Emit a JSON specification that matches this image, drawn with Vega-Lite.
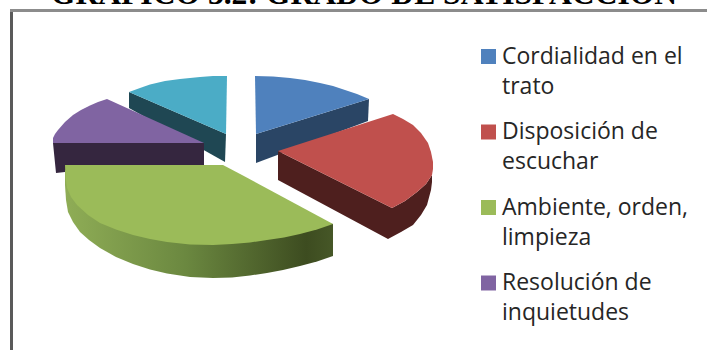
{
  "$schema": "https://vega.github.io/schema/vega-lite/v6.json",
  "width": 707,
  "height": 350,
  "autosize": "none",
  "padding": 0,
  "background": "white",
  "config": {"view": {"stroke": null}, "style": {"guide-label": {"lineHeight": 30}}},
  "datasets": {
    "caras": [
      {"porcion":"Otros aspectos","cara":"lateral","n":1,"px":129,"py":92},
      {"porcion":"Otros aspectos","cara":"lateral","n":2,"px":226,"py":134},
      {"porcion":"Otros aspectos","cara":"lateral","n":3,"px":225,"py":162},
      {"porcion":"Otros aspectos","cara":"lateral","n":4,"px":129,"py":108},

      {"porcion":"Cordialidad en el trato","cara":"lateral","n":1,"px":256,"py":134},
      {"porcion":"Cordialidad en el trato","cara":"lateral","n":2,"px":369,"py":99},
      {"porcion":"Cordialidad en el trato","cara":"lateral","n":3,"px":368,"py":121},
      {"porcion":"Cordialidad en el trato","cara":"lateral","n":4,"px":256,"py":163},

      {"porcion":"Resolución de inquietudes","cara":"lateral","n":1,"px":53,"py":143},
      {"porcion":"Resolución de inquietudes","cara":"lateral","n":2,"px":204,"py":143},
      {"porcion":"Resolución de inquietudes","cara":"lateral","n":3,"px":204,"py":166},
      {"porcion":"Resolución de inquietudes","cara":"lateral","n":4,"px":65,"py":172},
      {"porcion":"Resolución de inquietudes","cara":"lateral","n":5,"px":56,"py":173},

      {"porcion":"Disposición de escuchar","cara":"lateral","n":1,"px":278,"py":151},
      {"porcion":"Disposición de escuchar","cara":"lateral","n":2,"px":392,"py":208},
      {"porcion":"Disposición de escuchar","cara":"lateral","n":3,"px":405,"py":201},
      {"porcion":"Disposición de escuchar","cara":"lateral","n":4,"px":417,"py":192},
      {"porcion":"Disposición de escuchar","cara":"lateral","n":5,"px":426,"py":184},
      {"porcion":"Disposición de escuchar","cara":"lateral","n":6,"px":432,"py":175},
      {"porcion":"Disposición de escuchar","cara":"lateral","n":7,"px":432,"py":182},
      {"porcion":"Disposición de escuchar","cara":"lateral","n":8,"px":431,"py":190},
      {"porcion":"Disposición de escuchar","cara":"lateral","n":9,"px":427,"py":205},
      {"porcion":"Disposición de escuchar","cara":"lateral","n":10,"px":421,"py":215},
      {"porcion":"Disposición de escuchar","cara":"lateral","n":11,"px":413,"py":225},
      {"porcion":"Disposición de escuchar","cara":"lateral","n":12,"px":401,"py":232},
      {"porcion":"Disposición de escuchar","cara":"lateral","n":13,"px":388,"py":239},
      {"porcion":"Disposición de escuchar","cara":"lateral","n":14,"px":278,"py":180},

      {"porcion":"Ambiente, orden, limpieza","cara":"degradado","n":1,"px":65,"py":170},
      {"porcion":"Ambiente, orden, limpieza","cara":"degradado","n":2,"px":333,"py":224},
      {"porcion":"Ambiente, orden, limpieza","cara":"degradado","n":3,"px":333,"py":256},
      {"porcion":"Ambiente, orden, limpieza","cara":"degradado","n":4,"px":317,"py":261.5},
      {"porcion":"Ambiente, orden, limpieza","cara":"degradado","n":5,"px":300,"py":266},
      {"porcion":"Ambiente, orden, limpieza","cara":"degradado","n":6,"px":283,"py":270},
      {"porcion":"Ambiente, orden, limpieza","cara":"degradado","n":7,"px":267,"py":273},
      {"porcion":"Ambiente, orden, limpieza","cara":"degradado","n":8,"px":250,"py":275.5},
      {"porcion":"Ambiente, orden, limpieza","cara":"degradado","n":9,"px":232,"py":277.5},
      {"porcion":"Ambiente, orden, limpieza","cara":"degradado","n":10,"px":213,"py":278},
      {"porcion":"Ambiente, orden, limpieza","cara":"degradado","n":11,"px":190,"py":277},
      {"porcion":"Ambiente, orden, limpieza","cara":"degradado","n":12,"px":167,"py":273.5},
      {"porcion":"Ambiente, orden, limpieza","cara":"degradado","n":13,"px":150,"py":269.5},
      {"porcion":"Ambiente, orden, limpieza","cara":"degradado","n":14,"px":133,"py":264},
      {"porcion":"Ambiente, orden, limpieza","cara":"degradado","n":15,"px":116,"py":257},
      {"porcion":"Ambiente, orden, limpieza","cara":"degradado","n":16,"px":100,"py":248},
      {"porcion":"Ambiente, orden, limpieza","cara":"degradado","n":17,"px":89,"py":240},
      {"porcion":"Ambiente, orden, limpieza","cara":"degradado","n":18,"px":80,"py":232},
      {"porcion":"Ambiente, orden, limpieza","cara":"degradado","n":19,"px":73,"py":222},
      {"porcion":"Ambiente, orden, limpieza","cara":"degradado","n":20,"px":68,"py":212},
      {"porcion":"Ambiente, orden, limpieza","cara":"degradado","n":21,"px":66,"py":200},
      {"porcion":"Ambiente, orden, limpieza","cara":"degradado","n":22,"px":65,"py":185},

      {"porcion":"Cordialidad en el trato","cara":"superior","n":1,"px":256,"py":134},
      {"porcion":"Cordialidad en el trato","cara":"superior","n":2,"px":255,"py":76},
      {"porcion":"Cordialidad en el trato","cara":"superior","n":3,"px":273,"py":76.5},
      {"porcion":"Cordialidad en el trato","cara":"superior","n":4,"px":290,"py":78},
      {"porcion":"Cordialidad en el trato","cara":"superior","n":5,"px":305,"py":80},
      {"porcion":"Cordialidad en el trato","cara":"superior","n":6,"px":320,"py":83},
      {"porcion":"Cordialidad en el trato","cara":"superior","n":7,"px":333,"py":86},
      {"porcion":"Cordialidad en el trato","cara":"superior","n":8,"px":345,"py":90},
      {"porcion":"Cordialidad en el trato","cara":"superior","n":9,"px":357,"py":94},
      {"porcion":"Cordialidad en el trato","cara":"superior","n":10,"px":369,"py":99},

      {"porcion":"Disposición de escuchar","cara":"superior","n":1,"px":278,"py":151},
      {"porcion":"Disposición de escuchar","cara":"superior","n":2,"px":393,"py":114},
      {"porcion":"Disposición de escuchar","cara":"superior","n":3,"px":403,"py":119},
      {"porcion":"Disposición de escuchar","cara":"superior","n":4,"px":413,"py":125},
      {"porcion":"Disposición de escuchar","cara":"superior","n":5,"px":421,"py":133},
      {"porcion":"Disposición de escuchar","cara":"superior","n":6,"px":428,"py":143},
      {"porcion":"Disposición de escuchar","cara":"superior","n":7,"px":431,"py":152},
      {"porcion":"Disposición de escuchar","cara":"superior","n":8,"px":433,"py":162},
      {"porcion":"Disposición de escuchar","cara":"superior","n":9,"px":433,"py":169},
      {"porcion":"Disposición de escuchar","cara":"superior","n":10,"px":432,"py":175},
      {"porcion":"Disposición de escuchar","cara":"superior","n":11,"px":426,"py":184},
      {"porcion":"Disposición de escuchar","cara":"superior","n":12,"px":417,"py":192},
      {"porcion":"Disposición de escuchar","cara":"superior","n":13,"px":405,"py":201},
      {"porcion":"Disposición de escuchar","cara":"superior","n":14,"px":392,"py":208},

      {"porcion":"Resolución de inquietudes","cara":"superior","n":1,"px":204,"py":143},
      {"porcion":"Resolución de inquietudes","cara":"superior","n":2,"px":53,"py":143},
      {"porcion":"Resolución de inquietudes","cara":"superior","n":3,"px":53,"py":138},
      {"porcion":"Resolución de inquietudes","cara":"superior","n":4,"px":55,"py":134},
      {"porcion":"Resolución de inquietudes","cara":"superior","n":5,"px":58,"py":130},
      {"porcion":"Resolución de inquietudes","cara":"superior","n":6,"px":65,"py":122},
      {"porcion":"Resolución de inquietudes","cara":"superior","n":7,"px":73,"py":115},
      {"porcion":"Resolución de inquietudes","cara":"superior","n":8,"px":81,"py":110},
      {"porcion":"Resolución de inquietudes","cara":"superior","n":9,"px":90,"py":105.5},
      {"porcion":"Resolución de inquietudes","cara":"superior","n":10,"px":98,"py":102},
      {"porcion":"Resolución de inquietudes","cara":"superior","n":11,"px":107,"py":99},

      {"porcion":"Otros aspectos","cara":"superior","n":1,"px":226,"py":134},
      {"porcion":"Otros aspectos","cara":"superior","n":2,"px":129,"py":92},
      {"porcion":"Otros aspectos","cara":"superior","n":3,"px":140,"py":88},
      {"porcion":"Otros aspectos","cara":"superior","n":4,"px":150,"py":84.5},
      {"porcion":"Otros aspectos","cara":"superior","n":5,"px":165,"py":81},
      {"porcion":"Otros aspectos","cara":"superior","n":6,"px":180,"py":79},
      {"porcion":"Otros aspectos","cara":"superior","n":7,"px":200,"py":77},
      {"porcion":"Otros aspectos","cara":"superior","n":8,"px":213,"py":76},
      {"porcion":"Otros aspectos","cara":"superior","n":9,"px":227,"py":76},

      {"porcion":"Ambiente, orden, limpieza","cara":"superior","n":1,"px":65,"py":165},
      {"porcion":"Ambiente, orden, limpieza","cara":"superior","n":2,"px":223,"py":165},
      {"porcion":"Ambiente, orden, limpieza","cara":"superior","n":3,"px":242,"py":175},
      {"porcion":"Ambiente, orden, limpieza","cara":"superior","n":4,"px":333,"py":224},
      {"porcion":"Ambiente, orden, limpieza","cara":"superior","n":5,"px":317,"py":229.5},
      {"porcion":"Ambiente, orden, limpieza","cara":"superior","n":6,"px":300,"py":234},
      {"porcion":"Ambiente, orden, limpieza","cara":"superior","n":7,"px":284,"py":237.5},
      {"porcion":"Ambiente, orden, limpieza","cara":"superior","n":8,"px":267,"py":240},
      {"porcion":"Ambiente, orden, limpieza","cara":"superior","n":9,"px":250,"py":242.5},
      {"porcion":"Ambiente, orden, limpieza","cara":"superior","n":10,"px":232,"py":244},
      {"porcion":"Ambiente, orden, limpieza","cara":"superior","n":11,"px":213,"py":245},
      {"porcion":"Ambiente, orden, limpieza","cara":"superior","n":12,"px":190,"py":244.5},
      {"porcion":"Ambiente, orden, limpieza","cara":"superior","n":13,"px":167,"py":242},
      {"porcion":"Ambiente, orden, limpieza","cara":"superior","n":14,"px":150,"py":239},
      {"porcion":"Ambiente, orden, limpieza","cara":"superior","n":15,"px":133,"py":235},
      {"porcion":"Ambiente, orden, limpieza","cara":"superior","n":16,"px":116,"py":229.5},
      {"porcion":"Ambiente, orden, limpieza","cara":"superior","n":17,"px":100,"py":223},
      {"porcion":"Ambiente, orden, limpieza","cara":"superior","n":18,"px":88,"py":215},
      {"porcion":"Ambiente, orden, limpieza","cara":"superior","n":19,"px":77,"py":205},
      {"porcion":"Ambiente, orden, limpieza","cara":"superior","n":20,"px":71,"py":197},
      {"porcion":"Ambiente, orden, limpieza","cara":"superior","n":21,"px":67,"py":188},
      {"porcion":"Ambiente, orden, limpieza","cara":"superior","n":22,"px":65.5,"py":178}
    ]
  },
  "data": {"name": "caras"},
  "encoding": {
    "x": {"field": "px", "type": "quantitative", "axis": null, "scale": {"domain": [0, 707], "nice": false, "zero": false}},
    "y": {"field": "py", "type": "quantitative", "axis": null, "scale": {"domain": [350, 0], "nice": false, "zero": false}}
  },
  "layer": [
    {
      "transform": [{"filter": "datum.cara === 'lateral'"}],
      "mark": {"type": "line", "stroke": null, "interpolate": "linear"},
      "encoding": {
        "detail": {"field": "porcion"},
        "order": {"field": "n", "type": "quantitative"},
        "fill": {
          "field": "porcion", "type": "nominal", "legend": null,
          "scale": {
            "domain": ["Cordialidad en el trato", "Disposición de escuchar", "Resolución de inquietudes", "Otros aspectos"],
            "range": ["#2A4565", "#4E1F1E", "#35263F", "#1F4753"]
          }
        }
      }
    },
    {
      "transform": [{"filter": "datum.cara === 'degradado'"}],
      "mark": {
        "type": "line", "stroke": null,
        "fill": {
          "gradient": "linear", "x1": 0, "x2": 1, "y1": 0, "y2": 0,
          "stops": [
            {"offset": 0, "color": "#8FAD56"},
            {"offset": 0.45, "color": "#6B8840"},
            {"offset": 0.9, "color": "#3D4C20"},
            {"offset": 1, "color": "#465727"}
          ]
        }
      },
      "encoding": {"order": {"field": "n", "type": "quantitative"}}
    },
    {
      "transform": [{"filter": "datum.cara === 'superior'"}],
      "mark": {"type": "line", "stroke": null},
      "encoding": {
        "detail": {"field": "porcion"},
        "order": {"field": "n", "type": "quantitative"},
        "fill": {
          "field": "porcion", "type": "nominal",
          "scale": {
            "domain": ["Cordialidad en el trato", "Disposición de escuchar", "Ambiente, orden, limpieza", "Resolución de inquietudes", "Otros aspectos"],
            "range": ["#4F81BD", "#C0504D", "#9BBB59", "#8064A2", "#4BACC6"]
          },
          "legend": {
            "title": null,
            "orient": "none",
            "legendX": 477,
            "legendY": 45,
            "values": ["Cordialidad en el trato", "Disposición de escuchar", "Ambiente, orden, limpieza", "Resolución de inquietudes"],
            "symbolType": "square",
            "symbolSize": 225,
            "symbolStrokeWidth": 0,
            "labelFont": "Open Sans",
            "labelFontSize": 23,
            "labelColor": "#262626",
            "labelOffset": 2,
            "labelLimit": 230,
            "rowPadding": 21.5,
            "labelExpr": "datum.label === 'Cordialidad en el trato' ? ['Cordialidad en el', 'trato'] : datum.label === 'Disposición de escuchar' ? ['Disposición de', 'escuchar'] : datum.label === 'Ambiente, orden, limpieza' ? ['Ambiente, orden,', 'limpieza'] : ['Resolución de', 'inquietudes']"
          }
        }
      }
    },
    {
      "data": {"values": [
        {"tramo": "izquierda", "n": 1, "px": 11.5, "py": 10},
        {"tramo": "izquierda", "n": 2, "px": 11.5, "py": 350}
      ]},
      "mark": {"type": "line", "stroke": "#5a5a5a", "strokeWidth": 3},
      "encoding": {"order": {"field": "n", "type": "quantitative"}}
    },
    {
      "data": {"values": [
        {"tramo": "arriba", "n": 1, "px": 10, "py": 10.5},
        {"tramo": "arriba", "n": 2, "px": 707, "py": 10.5}
      ]},
      "mark": {"type": "line", "stroke": "#8c8c8c", "strokeWidth": 3},
      "encoding": {"order": {"field": "n", "type": "quantitative"}}
    },
    {
      "data": {"values": [{"rotulo": "GRÁFICO 3.2: GRADO DE SATISFACCIÓN", "px": 364, "py": 4}]},
      "mark": {"type": "text", "clip": true, "font": "Liberation Serif", "fontWeight": "bold", "fontSize": 31.6, "baseline": "alphabetic", "align": "center", "color": "#000000"},
      "encoding": {"text": {"field": "rotulo"}}
    }
  ],
  "resolve": {"scale": {"fill": "independent"}}
}
